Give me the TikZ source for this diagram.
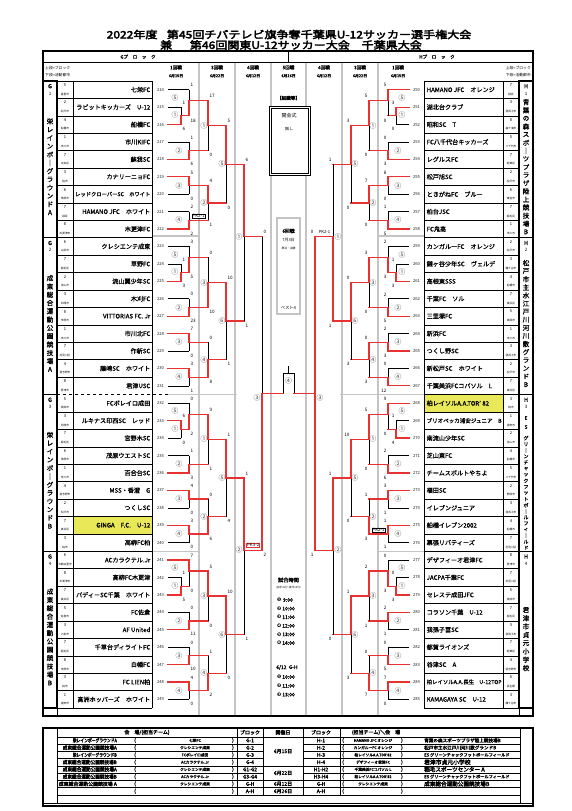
\documentclass[tikz,border=0pt]{standalone}
\usepackage{fontspec}
\usepackage{graphicx}
\setmainfont{Noto Sans CJK JP}[AutoFakeBold=2]
\newfontfamily\heavy{Noto Sans CJK JP}[FakeBold=3.2]
\newfontfamily\semi{Noto Sans CJK JP}[FakeBold=0.9]
\newfontfamily\sym{DejaVu Sans}
\XeTeXlinebreaklocale "ja"
\definecolor{rd}{RGB}{232,50,50}
\definecolor{gl}{RGB}{196,196,196}
\definecolor{yl}{RGB}{232,232,88}
\newcommand\fs[1]{\fontsize{#1}{#1}\selectfont}
\newlength\tw
\newcommand\fitn[2]{\settowidth\tw{#2}\ifdim\tw>#1\resizebox{#1}{!}{#2}\else#2\fi}
\newcommand\fith[2]{\settowidth\tw{#2}\ifdim\tw>#1\resizebox{#1}{\height}{#2}\else#2\fi}
\tikzset{
  rl/.style={draw=rd,line width=1.25pt,line cap=rect},
  bl/.style={draw=black,line width=0.55pt},
  sc/.style={font=\fs{4.6},inner sep=0pt},
  cn/.style={font=\fs{6.8},inner sep=0pt,text=black!72},
  num/.style={font=\fs{4.2},inner sep=0pt,text=black!85},
  tn/.style={font=\semi\fs{6.1},inner sep=0pt},
  sdn/.style={font=\fs{4},inner sep=0pt},
  ct/.style={font=\fs{2.7},inner sep=0pt},
  vt/.style={font=\semi\fs{6.6},inner sep=0pt},
  vts/.style={font=\semi\fs{5},inner sep=0pt},
  gline/.style={draw=gl,line width=1.4pt},
  hd/.style={font=\fs{4.6}\bfseries,inner sep=0pt},
  hds/.style={font=\fs{3.9}\bfseries,inner sep=0pt},
  tb/.style={font=\heavy\fs{5},inner sep=0pt},
  tbs/.style={font=\heavy\fs{3.7},inner sep=0pt},
  tm/.style={font=\fs{5}\bfseries,inner sep=0pt,anchor=west},
  pkbox/.style={draw,line width=0.4pt,font=\fs{4.4},inner sep=0.4pt},
}
\def\xo{0}\def\sd{1}\def\an{west}
\newcommand\PX[1]{\xo+(\sd)*(#1)}
\def\parseW#1#2#3#4#5#6#7#8{\def\Wa{#1}\def\Wb{#2}\def\Wc{#3}\def\Wd{#4}\def\We{#5}\def\Wf{#6}\def\Wg{#7}\def\Wh{#8}}
\def\parseSa#1#2#3#4#5#6#7#8{\def\Qa{#1}\def\Qb{#2}\def\Qc{#3}\def\Qd{#4}\def\Qe{#5}\def\Qf{#6}\def\Qg{#7}\def\Qh{#8}}
\def\parseSb#1#2#3#4#5#6#7#8{\def\Qi{#1}\def\Qj{#2}\def\Qk{#3}\def\Ql{#4}\def\Qm{#5}\def\Qn{#6}\def\Qo{#7}\def\Qp{#8}}
\def\parseL#1#2#3{\def\Lba{#1}\def\Lbb{#2}\def\Lbc{#3}}
\newcommand\HL[4]{\draw[#4] ({\PX{#1}},{#3}) -- ({\PX{#2}},{#3});}
\newcommand\HLc[5]{\if#4#5\HL{#1}{#2}{#3}{rl}\else\HL{#1}{#2}{#3}{bl}\fi}
\newcommand\MT[7]{%
  \if#5t%
    \draw[bl] ({\PX{#1}},{#4}) -- ({\PX{#1}},{#3});%
    \draw[rl] ({\PX{#1}},{#2}) -- ({\PX{#1}},{#4});%
  \else%
    \draw[bl] ({\PX{#1}},{#2}) -- ({\PX{#1}},{#4});%
    \draw[rl] ({\PX{#1}},{#4}) -- ({\PX{#1}},{#3});%
  \fi%
  \node[sc,anchor=\an] at ({\PX{#1+1.4}},{#2-4.4}) {#6};%
  \node[sc,anchor=\an] at ({\PX{#1+1.4}},{#3+4.6}) {#7};%
}
\newcommand\Grp[5]{%
  \parseW#2%
  \parseSa#3%
  \parseSb#4%
  \parseL#5%
  \pgfmathsetmacro\Ya{89.71+17.42*(#1)}%
  \pgfmathsetmacro\Yb{\Ya+17.42}%
  \pgfmathsetmacro\Yc{\Ya+34.84}%
  \pgfmathsetmacro\Yd{\Ya+52.26}%
  \pgfmathsetmacro\Ye{\Ya+69.68}%
  \pgfmathsetmacro\Yf{\Ya+87.10}%
  \pgfmathsetmacro\Yg{\Ya+104.52}%
  \pgfmathsetmacro\Yh{\Ya+121.94}%
  \pgfmathsetmacro\Yi{\Ya+139.36}%
  \pgfmathsetmacro\MoA{(\Yb+\Yc)/2}%
  \pgfmathsetmacro\MoE{\Ya+11}%
  \pgfmathsetmacro\MoB{(\Yd+\Ye)/2}%
  \pgfmathsetmacro\MoC{(\Yf+\Yg)/2}%
  \pgfmathsetmacro\MoD{(\Yh+\Yi)/2}%
  \pgfmathsetmacro\ToA{(\MoE+\MoB)/2}%
  \pgfmathsetmacro\ToB{(\MoC+\MoD)/2}%
  \pgfmathsetmacro\ToC{(\ToA+\ToB)/2}%
  \HLc{168}{189}{\Ya}{\Wb}{t}%
  \HLc{168}{181}{\Yb}{\Wa}{t}%
  \HLc{168}{181}{\Yc}{\Wa}{b}%
  \HLc{168}{189}{\Yd}{\Wc}{t}%
  \HLc{168}{189}{\Ye}{\Wc}{b}%
  \HLc{168}{189}{\Yf}{\Wd}{t}%
  \HLc{168}{189}{\Yg}{\Wd}{b}%
  \HLc{168}{189}{\Yh}{\We}{t}%
  \HLc{168}{189}{\Yi}{\We}{b}%
  \HL{181}{189}{\MoA}{rl}%
  \MT{181}{\Yb}{\Yc}{\MoA}{\Wa}{\Qa}{\Qb}%
  \MT{189}{\Ya}{\MoA}{\MoE}{\Wb}{\Qc}{\Qd}%
  \MT{189}{\Yd}{\Ye}{\MoB}{\Wc}{\Qe}{\Qf}%
  \MT{189}{\Yf}{\Yg}{\MoC}{\Wd}{\Qg}{\Qh}%
  \MT{189}{\Yh}{\Yi}{\MoD}{\We}{\Qi}{\Qj}%
  \HL{189}{208}{\MoE}{rl}%
  \HL{189}{208}{\MoB}{rl}%
  \HL{189}{208}{\MoC}{rl}%
  \HL{189}{208}{\MoD}{rl}%
  \MT{208}{\MoE}{\MoB}{\ToA}{\Wf}{\Qk}{\Ql}%
  \MT{208}{\MoC}{\MoD}{\ToB}{\Wg}{\Qm}{\Qn}%
  \HL{208}{226}{\ToA}{rl}%
  \HL{208}{226}{\ToB}{rl}%
  \MT{226}{\ToA}{\ToB}{\ToC}{\Wh}{\Qo}{\Qp}%
  \HL{226}{244}{\ToC}{rl}%
  \node[cn] at ({\PX{175}},{\Ya+8}) {⑤};%
  \node[cn] at ({\PX{175}},{\MoA-0.5}) {①};%
  \node[cn] at ({\PX{179}},{\MoB}) {②};%
  \node[cn] at ({\PX{179}},{\MoC}) {③};%
  \node[cn] at ({\PX{179}},{\MoD}) {④};%
  \node[cn] at ({\PX{204}},{\ToA}) {\Lba};%
  \node[cn] at ({\PX{204}},{\ToB}) {\Lbb};%
  \node[cn] at ({\PX{222}},{\ToC}) {\Lbc};%
}
\newcommand\TeamL[5]{%
  \pgfmathsetmacro\ty{89.71+17.42*(#1)}%
  \node[num] at (160.5,\ty) {#2};%
  \node[tn,anchor=east] at (150.5,\ty) {\fitn{75pt}{#3}};%
  \node[sdn] at (65,{\ty-4.6}) {#4};%
  \node[ct] at (65,{\ty+4.4}) {\fitn{14pt}{#5}};%
}
\newcommand\TeamR[5]{%
  \pgfmathsetmacro\ty{89.71+17.42*(#1)}%
  \node[num] at (416.5,\ty) {#2};%
  \node[tn,anchor=west] at (426.5,\ty) {\fitn{75pt}{#3}};%
  \node[sdn] at (511,{\ty-4.6}) {#4};%
  \node[ct] at (511,{\ty+4.4}) {\fitn{14pt}{#5}};%
}
\newcommand\GBox[4]{%
  \draw[line width=1.3pt] (#1,#2) rectangle ({#1+14},{#2+156.78});%
  \node[font=\fs{5.5}\bfseries,inner sep=0pt] at ({#1+7},{#2+5.2}) {#3};%
  \node[font=\fs{4.5},inner sep=0pt] at ({#1+7},{#2+12.4}) {#4};%
}
\newcommand\VT[6]{%
  \foreach \ch [count=\ii] in {#6} \node[#1] at (#2,{#3+(\ii-(#5+1)/2)*#4}) {\ch};%
}
\newcommand\TL[5]{%
  \pgfmathsetmacro\ty{736.8+7.25*(#1-0.5)}%
  \node[tb,anchor=east] at (117,\ty) {\fith{#3}{#2}};%
  \node[tb] at (135,\ty) {(};%
  \node[tbs] at (195,\ty) {#4};%
  \node[tb] at (233,\ty) {)};%
  \node[tb] at (250,\ty) {#5};%
}
\newcommand\TR[6]{%
  \pgfmathsetmacro\ty{736.8+7.25*(#1-0.5)}%
  \node[tb] at (321,\ty) {#2};%
  \node[tb] at (343,\ty) {(};%
  \node[tbs] at (373,\ty) {#3};%
  \node[tb] at (402,\ty) {)};%
  \node[inner sep=0pt,anchor=west,font=\heavy\fs{#5}] at (424,\ty) {\fith{#6}{#4}};%
}
\begin{document}
\begin{tikzpicture}[x=1pt,y=-1pt]
\useasboundingbox (0,0) rectangle (571,811);
\fill[white] (0,0) rectangle (571,811);
% ---------- title
\node[font=\heavy\fs{10.2},inner sep=0pt] (t1) at (289,34.5) {\scalebox{1.18}[1]{2022年度\hspace{8pt}第45回チバテレビ旗争奪千葉県U-12サッカー選手権大会}};
\node[font=\heavy\fs{10.2},inner sep=0pt] (t2) at (291,45) {\scalebox{1.18}[1]{兼\hspace{15pt}第46回関東U-12サッカー大会\hspace{10pt}千葉県大会}};
% ---------- yellow cells
\fill[yl] (73,{81+25*17.42}) rectangle (152,{81+26*17.42});
\fill[yl] (424,{81+18*17.42}) rectangle (503,{81+19*17.42});
% ---------- gray column lines
\foreach \x in {199,235,271,306,342,378} \draw[gline] (\x,62.5) -- (\x,715);
\draw[gline] (153,236) -- (199,236);
\draw[gline] (153,551.3) -- (199,551.3);
\draw[gline] (168,394.6) -- (237,394.6);
\draw[gline] (378,236) -- (424,236);
\draw[gline] (378,551.3) -- (424,551.3);
\draw[gline] (340,394.6) -- (424,394.6);
% ---------- main frame
\draw[line width=1.5pt] (43,51) rectangle (533,716);
\draw[line width=1pt] (43,62) -- (533,62);
\draw[line width=0.6pt] (288.5,51) -- (288.5,62);
\node[hd] at (138,56.8) {Gブ　ロ　ッ　ク};
\node[hd] at (437,56.8) {Hブ　ロ　ッ　ク};
\node[font=\fs{3.8},inner sep=0pt,anchor=west] at (45,68) {上段=ブロック};
\node[font=\fs{3.8},inner sep=0pt,anchor=west] at (45,75) {下段=活動都市};
\node[font=\fs{3.8},inner sep=0pt,anchor=east] at (531,68) {上段=ブロック};
\node[font=\fs{3.8},inner sep=0pt,anchor=east] at (531,75) {下段=活動都市};
\foreach \x/\r/\d in {176/1回戦/6月15日, 217/3回戦/6月22日, 253/4回戦/6月12日, 288.5/5回戦/6月26日, 324/4回戦/6月12日, 360/3回戦/6月22日, 398/1回戦/6月15日}{
  \node[hd] at (\x,67.5) {\r};
  \node[hds] at (\x,75.8) {\d};
}
% ---------- team tables
\foreach \k in {0,...,36} {
  \ifnum\k=18\else\draw[line width=0.6pt] (57,{81+17.42*\k}) -- (152,{81+17.42*\k});\fi
  \draw[line width=0.6pt] (424,{81+17.42*\k}) -- (519,{81+17.42*\k});
}
\draw[line width=0.6pt,dashed] (57,394.6) -- (168,394.6);
\foreach \x in {57,73,152,424,503,519} \draw[line width=0.6pt] (\x,81) -- (\x,708.1);
\draw[line width=0.6pt] (57,708.1) -- (57,716);
\draw[line width=0.6pt] (519,708.1) -- (519,716);
\GBox{43}{81}{G}{1}
\GBox{43}{237.78}{G}{2}
\GBox{43}{394.56}{G}{3}
\GBox{43}{551.34}{G}{4}
\GBox{519}{81}{H}{1}
\GBox{519}{237.78}{H}{2}
\GBox{519}{394.56}{H}{3}
\GBox{519}{551.34}{H}{4}
\VT{vt}{50}{167}{8.3}{12}{栄,レ,イ,ン,ボ,｜,グ,ラ,ウ,ン,ド,A}
\VT{vt}{50}{323.8}{8.3}{12}{成,東,総,合,運,動,公,園,競,技,場,A}
\VT{vt}{50}{480.6}{8.3}{12}{栄,レ,イ,ン,ボ,｜,グ,ラ,ウ,ン,ド,B}
\VT{vt}{50}{637.3}{8.3}{12}{成,東,総,合,運,動,公,園,競,技,場,B}
\VT{vt}{526}{167}{8.1}{17}{青,葉,の,森,ス,ポ,｜,ツ,プ,ラ,ザ,陸,上,競,技,場,B}
\VT{vt}{526}{323.8}{8.1}{16}{松,戸,市,主,水,江,戸,川,河,川,敷,グ,ラ,ン,ド,B}
\node[vts] at (526,418) {E};
\node[vts] at (526,427) {S};
\VT{vts}{526}{493}{6.1}{19}{グ,リ,｜,ン,チ,ャ,ッ,ク,フ,ッ,ト,ボ,｜,ル,フ,ィ,｜,ル,ド}
\VT{vt}{526}{639}{8.3}{8}{君,津,市,貞,元,小,学,校}
% ---------- teams G
\TeamL{0}{214}{七栄FC}{5}{富里市}
\TeamL{1}{215}{ラビットキッカーズ　U-12}{2}{松戸市}
\TeamL{2}{216}{船橋FC}{4}{船橋市}
\TeamL{3}{217}{市川KIFC}{1}{市川市}
\TeamL{4}{218}{蘇我SC}{7}{中央区}
\TeamL{5}{219}{カナリーニョFC}{3}{柏市}
\TeamL{6}{220}{レッドクローバーSC　ホワイト}{6}{茂原市}
\TeamL{7}{221}{HAMANO JFC　ホワイト}{7}{緑区}
\TeamL{8}{222}{木更津FC}{8}{木更津市}
\TeamL{9}{223}{クレシエンテ成東}{6}{山武市}
\TeamL{10}{224}{草野FC}{7}{稲毛区}
\TeamL{11}{225}{流山翼少年SC}{2}{流山市}
\TeamL{12}{226}{木刈FC}{3}{印西市}
\TeamL{13}{227}{VITTORIAS FC. Jr}{8}{市原市}
\TeamL{14}{228}{市川北FC}{1}{市川市}
\TeamL{15}{229}{作新SC}{7}{花見川区}
\TeamL{16}{230}{藤崎SC　ホワイト}{4}{習志野市}
\TeamL{17}{231}{君津USC}{8}{君津市}
\TeamL{18}{232}{FCボレイロ成田}{5}{成田市}
\TeamL{19}{233}{ルキナス印西SC　レッド}{3}{印西市}
\TeamL{20}{234}{宮野木SC}{7}{稲毛区}
\TeamL{21}{235}{茂原ウエストSC}{6}{茂原市}
\TeamL{22}{236}{百合台SC}{1}{市川市}
\TeamL{23}{237}{MSS・香澄　G}{4}{習志野市}
\TeamL{24}{238}{つくしSC}{2}{松戸市}
\TeamL{25}{239}{GINGA　F.C.　U-12}{7}{美浜区}
\TeamL{26}{240}{高柳FC柏}{3}{柏市}
\TeamL{27}{241}{ACカラクテル.Jr}{6}{大網白里市}
\TeamL{28}{242}{高柳FC木更津}{8}{木更津市}
\TeamL{29}{243}{パディーSC千葉　ホワイト}{7}{美浜区}
\TeamL{30}{244}{FC佐倉}{5}{佐倉市}
\TeamL{31}{245}{AF United}{3}{八街市}
\TeamL{32}{246}{千草台ディライトFC}{7}{稲毛区}
\TeamL{33}{247}{白幡FC}{8}{市原市}
\TeamL{34}{248}{FC LIEN柏}{3}{柏市}
\TeamL{35}{249}{高洲ホッパーズ　ホワイト}{1}{浦安市}
% ---------- teams H
\TeamR{0}{250}{HAMANO JFC　オレンジ}{7}{緑区}
\TeamR{1}{251}{湖北台クラブ}{3}{我孫子市}
\TeamR{2}{252}{昭和SC　T}{8}{袖ケ浦市}
\TeamR{3}{253}{FC八千代台キッカーズ}{5}{八千代市}
\TeamR{4}{254}{レグルスFC}{7}{若葉区}
\TeamR{5}{255}{松戸旭SC}{2}{松戸市}
\TeamR{6}{256}{ときがねFC　ブルー}{6}{東金市}
\TeamR{7}{257}{柏台JSC}{7}{稲毛区}
\TeamR{8}{258}{FC鬼高}{1}{市川市}
\TeamR{9}{259}{カンガルーFC　オレンジ}{2}{松戸市}
\TeamR{10}{260}{鎌ヶ谷少年SC　ヴェルデ}{3}{鎌ケ谷市}
\TeamR{11}{261}{高根東SSS}{4}{船橋市}
\TeamR{12}{262}{千葉FC　ソル}{7}{美浜区}
\TeamR{13}{263}{三里塚FC}{5}{成田市}
\TeamR{14}{264}{新浜FC}{1}{市川市}
\TeamR{15}{265}{つくし野SC}{3}{我孫子市}
\TeamR{16}{266}{新松戸SC　ホワイト}{2}{松戸市}
\TeamR{17}{267}{千葉美浜FCコパソル　L}{7}{美浜区}
\TeamR{18}{268}{柏レイソルA.A.TOR’ 82}{3}{柏市}
\TeamR{19}{269}{ブリオベッカ浦安ジュニア　B}{1}{浦安市}
\TeamR{20}{270}{南流山少年SC}{2}{流山市}
\TeamR{21}{271}{芝山東FC}{4}{船橋市}
\TeamR{22}{272}{チームスポルトやちよ}{5}{八千代市}
\TeamR{23}{273}{福田SC}{2}{野田市}
\TeamR{24}{274}{イレブンジュニア}{3}{我孫子市}
\TeamR{25}{275}{船橋イレブン2002}{4}{船橋市}
\TeamR{26}{276}{幕張リバティーズ}{7}{花見川区}
\TeamR{27}{277}{デザフィーオ君津FC}{8}{君津市}
\TeamR{28}{278}{JACPA千葉FC}{7}{花見川区}
\TeamR{29}{279}{セレステ成田JFC}{5}{成田市}
\TeamR{30}{280}{コラソン千葉　U-12}{7}{稲毛区}
\TeamR{31}{281}{我孫子冨SC}{3}{我孫子市}
\TeamR{32}{282}{都賀ライオンズ}{7}{若葉区}
\TeamR{33}{283}{谷津SC　A}{4}{習志野市}
\TeamR{34}{284}{柏レイソルA.A.長生　U-12TOP}{6}{長生郡}
\TeamR{35}{285}{KAMAGAYA SC　U-12}{3}{鎌ケ谷市}
% ---------- brackets G
\def\xo{0}\def\sd{1}\def\an{west}
\Grp{0}{bbbtbttt}{{1}{6}{1}{18}{1}{6}{5}{0}}{{2}{2}{17}{0}{4}{1}{5}{0}}{{①}{②}{⑤}}
\Grp{9}{bbbttbbt}{{1}{3}{3}{5}{0}{23}{7}{0}}{{3}{1}{0}{10}{0}{8}{10}{1}}{{③}{④}{⑥}}
\Grp{18}{tbbtttbt}{{6}{0}{0}{2}{1}{3}{4}{0}}{{3}{0}{9}{1}{0}{6}{1}{4}}{{①}{②}{⑤}}
\Grp{27}{btbbttbt}{{1}{5}{7}{0}{0}{11}{0}{10}}{{4}{0}{5}{0}{1}{2}{10}{0}}{{③}{④}{⑥}}
\node[pkbox,fill=white] (pkg) at (198.5,216.2) {PK2-1};
\MT{244}{164.32}{321.1}{236.71}{t}{6}{1}
\HL{244}{262}{236.71}{rl}
\MT{244}{477.88}{634.66}{550.27}{t}{1}{1}
\HL{244}{262}{550.27}{rl}
\MT{262}{236.71}{550.27}{393.49}{b}{0}{2}
\HL{262}{283}{393.49}{rl}
\node[cn] at (239,236.7) {①};
\node[cn] at (239,550.3) {②};
\node[cn] at (257,397.5) {③};
\node[pkbox,draw=rd,line width=0.7pt,fill=white] (pkq) at (253.2,545.4) {PK3-2};
% ---------- brackets H
\def\xo{577}\def\sd{-1}\def\an{east}
\Grp{0}{ttbtbttt}{{3}{0}{5}{0}{0}{3}{8}{0}}{{1}{5}{5}{0}{7}{0}{3}{0}}{{①}{②}{⑤}}
\Grp{9}{bbbbbttt}{{1}{3}{2}{3}{2}{5}{2}{3}}{{0}{12}{3}{0}{0}{3}{0}{3}}{{③}{④}{⑥}}
\Grp{18}{btbtttbt}{{1}{4}{9}{0}{2}{6}{3}{1}}{{1}{1}{5}{0}{1}{3}{10}{0}}{{①}{②}{⑤}}
\Grp{27}{bbtbttbt}{{0}{3}{0}{3}{2}{1}{0}{5}}{{7}{0}{2}{1}{0}{7}{1}{3}}{{③}{④}{⑥}}
\node[pkbox,fill=white] (pkh) at (378.5,529.9) {PK2-1};
\MT{244}{164.32}{321.1}{236.71}{b}{1}{1}
\HL{244}{262}{236.71}{rl}
\MT{244}{477.88}{634.66}{550.27}{t}{1}{0}
\HL{244}{262}{550.27}{rl}
\draw[rl] (315,236.71) -- (315,550.27);
\node[sc,anchor=east] at (313.6,232.3) {0};
\node[sc,anchor=east] at (313.6,554.9) {1};
\HL{262}{283}{393.49}{rl}
\node[font=\fs{4.2},inner sep=0pt] (pkr) at (324.5,232.3) {PK2-1};
\node[cn] at (338,236.7) {①};
\node[cn] at (338,550.3) {②};
\node[cn] at (320,397.5) {③};
% ---------- final
\draw[bl] (283,393.49) -- (283,373) -- (294,373) -- (294,393.49);
\draw[bl] (288.5,373) -- (288.5,365.5);
\node[cn] at (288.5,381) {④};
% ---------- centre info
\node[hd] at (288.5,98) {【組織等】};
\draw[line width=0.5pt,fill=white] (269,106) rectangle (310,175);
\draw[line width=0.5pt] (270.8,107.8) rectangle (308.2,173.2);
\node[font=\fs{5},inner sep=0pt] at (289,115.5) {開会式};
\node[font=\fs{4},inner sep=0pt] at (289,129) {無し};
\draw[draw=gl,line width=1.2pt,fill=white] (277,218) rectangle (300,314);
\node[font=\fs{4.8}\bfseries,inner sep=0pt] at (288.5,231) {6回戦};
\node[font=\fs{4},inner sep=0pt] at (288.5,240) {7月3日};
\node[font=\fs{2.8},inner sep=0pt] at (288.5,248) {準決・決勝};
\node[font=\fs{4.2},inner sep=0pt] at (288.5,308) {ベスト4};
\node[font=\fs{5.2}\bfseries,inner sep=0pt] at (288.5,580) {試合時間};
\node[font=\fs{2.6},inner sep=0pt] at (288.5,588) {(前半15分−後半15分)};
\node[tm] at (277,600) {{\sym ❶}\,\,9:00};
\node[tm] at (277,608.6) {{\sym ❷}\,10:00};
\node[tm] at (277,617.2) {{\sym ❸}\,11:00};
\node[tm] at (277,625.8) {{\sym ❹}\,12:00};
\node[tm] at (277,634.4) {{\sym ❺}\,13:00};
\node[tm] at (277,643) {{\sym ❻}\,14:00};
\node[tm] at (276,667.5) {6/12\ \ G-H};
\node[tm] at (277,677) {{\sym ❶}\,10:00};
\node[tm] at (277,685.8) {{\sym ❷}\,11:00};
\node[tm] at (277,694.6) {{\sym ❸}\,13:00};
% ---------- bottom table
\draw[line width=1.3pt] (43,728) rectangle (533,806);
\draw[line width=0.5pt] (43,803.3) -- (533,803.3);
\foreach \x in {57,520} \draw[line width=0.5pt] (\x,728) -- (\x,803.3);
\foreach \x in {237,263,303,340} \draw[line width=0.6pt] (\x,728) -- (\x,794.8);
\draw[line width=0.6pt] (57,736.8) -- (520,736.8);
\draw[line width=0.6pt] (57,794.8) -- (520,794.8);
\foreach \k in {1,...,7} {
  \draw[line width=0.5pt] (57,{736.8+7.25*\k}) -- (263,{736.8+7.25*\k});
  \draw[line width=0.5pt] (303,{736.8+7.25*\k}) -- (520,{736.8+7.25*\k});
}
\foreach \k in {4,6,7} \draw[line width=0.5pt] (263,{736.8+7.25*\k}) -- (303,{736.8+7.25*\k});
\node[tb] at (147,732.4) {会　場/(担当チーム)};
\node[tb] at (250,732.4) {ブロック};
\node[tb] at (283,732.4) {開催日};
\node[tb] at (321,732.4) {ブロック};
\node[tb] at (376,732.4) {(担当チーム)＼会　場};
\TL{1}{栄レインボーグラウンドA}{44pt}{七栄FC}{G-1}
\TL{2}{成東総合運動公園競技場A}{54pt}{クレシエンテ成東}{G-2}
\TL{3}{栄レインボーグラウンドB}{44pt}{FCボレイロ成田}{G-3}
\TL{4}{成東総合運動公園競技場B}{54pt}{ACカラクテル.Jr}{G-4}
\TL{5}{成東総合運動公園競技場A}{54pt}{クレシエンテ成東}{G1-G2}
\TL{6}{成東総合運動公園競技場B}{54pt}{ACカラクテル.Jr}{G3-G4}
\TL{7}{成東総合運動公園競技場\ A}{58pt}{クレシエンテ成東}{G-H}
\node[tb] at (135,791.2) {(};
\node[tb] at (233,791.2) {)};
\node[tb] at (250,791.2) {A-H};
\node[tb] at (283,751.3) {6月15日};
\node[tb] at (283,773.05) {6月22日};
\node[tb] at (283,783.9) {6月12日};
\node[tb] at (283,791.2) {6月26日};
\TR{1}{H-1}{HAMANO JFC オレンジ}{青葉の森スポーツプラザ陸上競技場B}{4.6}{93pt}
\TR{2}{H-2}{カンガルーFC オレンジ}{松戸市主水江戸川河川敷グランドB}{4.6}{93pt}
\TR{3}{H-3}{柏レイソルA.A.TOR’82}{ES グリーンチャックフットボールフィールド}{4.2}{89pt}
\TR{4}{H-4}{デザフィーオ君津FC}{君津市貞元小学校}{5.8}{60pt}
\TR{5}{H1-H2}{千葉美浜FCコパソル L}{稲毛スポーツセンター A}{5.6}{66pt}
\TR{6}{H3-H4}{柏レイソルA.A.TOR’82}{ES グリーンチャックフットボールフィールド}{4.2}{89pt}
\TR{7}{G-H}{クレシエンテ成東}{成東総合運動公園競技場B}{5.6}{74pt}
\node[tb] at (321,791.2) {A-H};
\node[tb] at (343,791.2) {(};
\node[tb] at (402,791.2) {)};
\end{tikzpicture}
\end{document}
